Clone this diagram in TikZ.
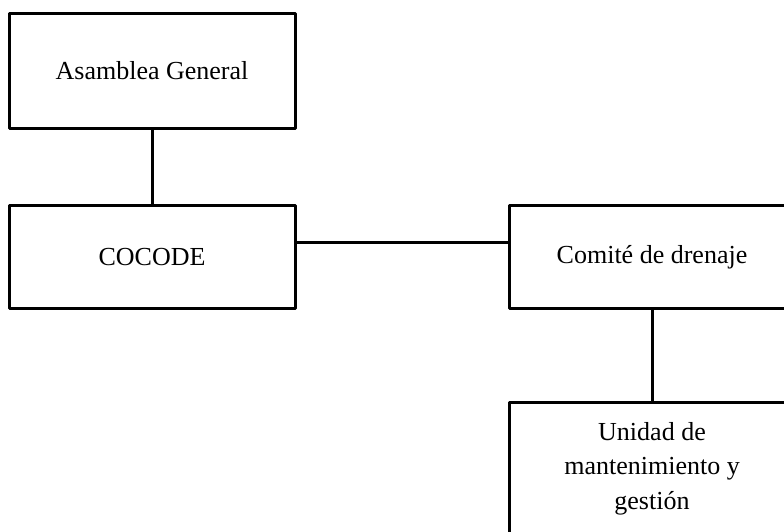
\documentclass[tikz,border=0pt]{standalone}
\usepackage{fontspec}
\setmainfont{Liberation Serif}
\begin{document}
\begin{tikzpicture}[x=1pt, y=1pt, line join=round, line width=3pt,
    caja/.style={draw, rectangle, minimum width=286pt, align=center,
      font=\fontsize{26}{34.5}\selectfont}]
            \useasboundingbox (0,0) rectangle (784,532);
            \clip (0,0) rectangle (784,532);

            \node [caja, minimum height=115pt] (asamblea) at (152,461) {Asamblea General};
            \node [caja, minimum height=103pt] (cocode) at (152,275) {COCODE};
            \node [caja, minimum height=103pt] (comite) at (652,275) {Comité de drenaje};
            \node [caja, minimum height=131pt] (unidad) at (652,63.5) {Unidad de\\ mantenimiento y\\ gestión};

            \draw (asamblea) -- (cocode);
            \draw ([yshift=14pt]cocode.east) -- ([yshift=14pt]comite.west);
            \draw (comite) -- (unidad);
        \end{tikzpicture}
\end{document}
